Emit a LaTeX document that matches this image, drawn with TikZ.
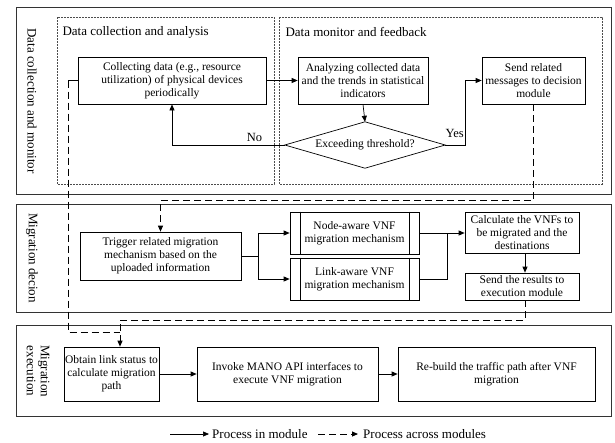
\documentclass[tikz,border=0pt]{standalone}
\usepackage{fontspec}
\setmainfont{Liberation Serif}
\usetikzlibrary{arrows.meta,calc}
\begin{document}
\begin{tikzpicture}[x=1pt,y=-1pt,
  every node/.style={font=\fontsize{11.5}{13}\selectfont},
  box/.style={draw, line width=0.7pt, align=center, inner sep=1pt},
  module/.style={draw=black!80, line width=0.9pt},
  region/.style={draw=black!70, line width=0.6pt, dash pattern=on 2pt off 1pt},
  arr/.style={line width=0.7pt, -{Triangle[length=6pt,width=5pt]}},
  flow/.style={line width=0.7pt},
  xline/.style={line width=0.9pt, dash pattern=on 7pt off 4pt},
  xarr/.style={xline, -{Triangle[length=6pt,width=5pt]}},
  title/.style={font=\fontsize{13}{14}\selectfont, anchor=west},
  side/.style={font=\fontsize{13}{14}\selectfont, rotate=-90, align=center},
  branch/.style={font=\fontsize{12.5}{14}\selectfont, inner sep=1pt}
]
\useasboundingbox (0,0) rectangle (615,442);

% module frames
\draw[module] (16,7) rectangle (611,194);
\draw[module] (16,204) rectangle (611,312);
\draw[module] (16,325) rectangle (611,416);

% sub-regions of the first module
\draw[region] (57,17) rectangle (274,184);
\draw[region] (279,17) rectangle (602,184);
\node[title] (t1) at (59,32) {Data collection and analysis};
\node[title] (t2) at (282,32) {Data monitor and feedback};

% module labels
\node[side] (m1) at (32,101) {Data collection and monitor};
\node[side] (m2) at (32,258) {Migration decion};
\node[side] (m3) at (38,371) {Migration\\execution};

% data collection and monitor
\node[box, minimum width=188, minimum height=47] (collect) at (172,80.5)
  {Collecting data (e.g., resource\\utilization) of physical devices\\periodically};
\node[box, minimum width=130, minimum height=47] (analyze) at (363,80.5)
  {Analyzing collected data\\and the trends in statistical\\indicators};
\node[box, minimum width=103, minimum height=47] (sendmsg) at (533.5,80.5)
  {Send related\\messages to decision\\module};
\node[minimum width=160, minimum height=46, inner sep=0] (dia) at (365,145)
  {Exceeding threshold?};
\draw[line width=0.7pt] (dia.west) -- (dia.north) -- (dia.east) -- (dia.south) -- cycle;

\draw[arr] (collect.east) -- (analyze.west);
\draw[arr] (analyze.south) -- (dia.north);
\draw[arr] (dia.west) -| (collect.south);
\node[branch] (no) at (254.5,137) {No};
\draw[arr] (dia.east) -- ++(20,0) |- (sendmsg.west);
\node[branch, anchor=east] (yes) at (465,133) {Yes};

% migration decision
\node[box, minimum width=161, minimum height=48] (trigger) at (160.5,256)
  {Trigger related migration\\mechanism based on the\\uploaded information};
\node[box, minimum width=129, minimum height=42] (nodeaware) at (354.5,233)
  {Node-aware VNF\\migration mechanism};
\node[box, minimum width=129, minimum height=42] (linkaware) at (354.5,279)
  {Link-aware VNF\\migration mechanism};
\foreach \n in {nodeaware,linkaware}{
  \draw[line width=0.7pt] ([xshift=11pt]\n.north west) -- ([xshift=11pt]\n.south west);
  \draw[line width=0.7pt] ([xshift=-10pt]\n.north east) -- ([xshift=-10pt]\n.south east);
}
\node[box, minimum width=114, minimum height=41] (calc) at (522,233)
  {Calculate the VNFs to\\be migrated and the\\destinations};
\node[box, minimum width=114, minimum height=27] (sendres) at (522,286.5)
  {Send the results to\\execution module};

\coordinate (split) at (258,256);
\coordinate (merge) at (447,233);
\draw[flow] (trigger.east) -- (split);
\draw[arr] (split) |- (nodeaware.west);
\draw[arr] (split) |- (linkaware.west);
\draw[arr] (nodeaware.east) -- (calc.west);
\draw[flow] (linkaware.east) -| (merge);
\draw[arr] ([xshift=3pt]calc.south) -- ([xshift=3pt]sendres.north);

% migration execution
\node[box, minimum width=87, minimum height=54] (obtain) at (111.5,374)
  {Obtain link status to\\calculate migration\\path};
\node[box, minimum width=181, minimum height=54] (invoke) at (287.5,374)
  {Invoke MANO API interfaces to\\execute VNF migration};
\node[box, minimum width=197, minimum height=54] (rebuild) at (496.5,374)
  {Re-build the traffic path after VNF\\migration};
\draw[arr] (obtain.east) -- (invoke.west);
\draw[arr] (invoke.east) -- (rebuild.west);

% processes across modules
\draw[xarr] (sendmsg.south) -- ++(0,96) -| (trigger.north);
\coordinate (c1) at (68,80.5);
\coordinate (join) at (120,320);
\coordinate (k) at (120,332);
\draw[flow] (collect.west) -- (c1);
\draw[xline] (c1) |- (k);
\draw[xarr] ([xshift=3pt]sendres.south) |- (join) -- (join |- obtain.north);

% legend
\coordinate (l1) at (170,434);
\coordinate (l2) at (209,434);
\coordinate (l3) at (318,434);
\coordinate (l4) at (358,434);
\draw[arr] (l1) -- (l2);
\node[anchor=west, inner sep=1pt, font=\fontsize{13}{14}\selectfont] (lg1) at (211,434) {Process in module};
\draw[xarr] (l3) -- (l4);
\node[anchor=west, inner sep=1pt, font=\fontsize{13}{14}\selectfont] (lg2) at (362,434) {Process across modules};
\end{tikzpicture}
\end{document}
